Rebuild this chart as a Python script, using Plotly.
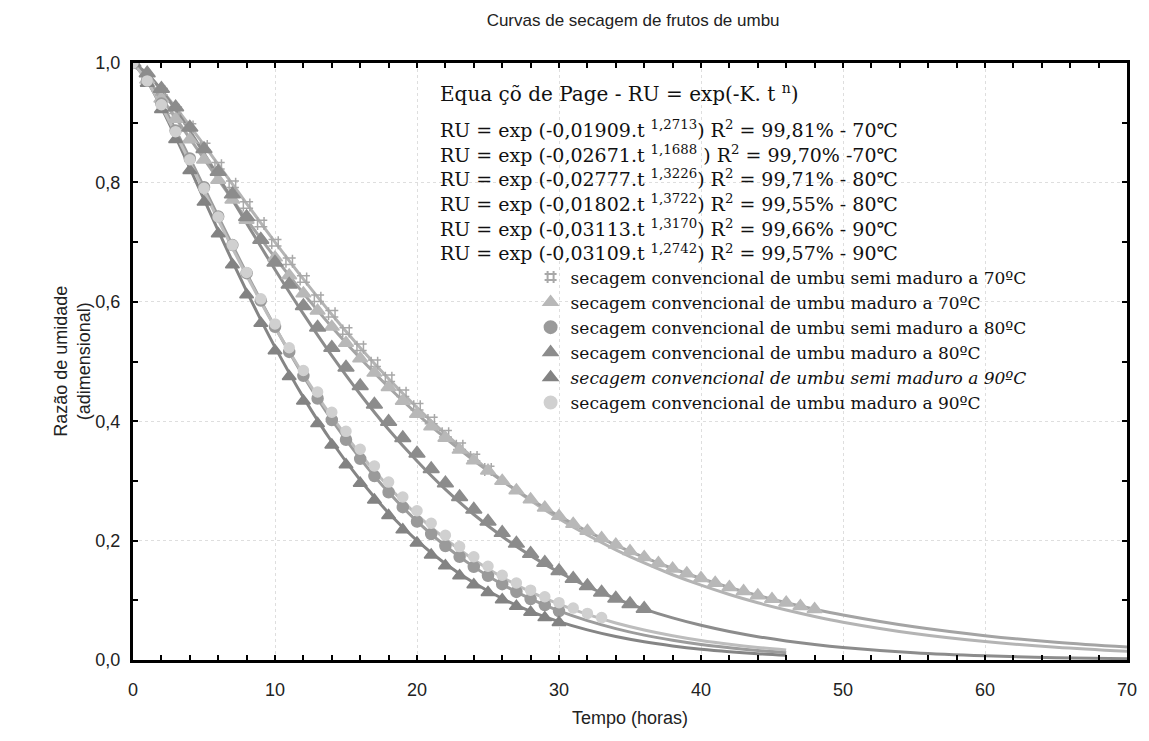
import plotly.graph_objects as go

# ---------------- data ----------------
T_HOURLY = list(range(0, 49))

s1_semi70 = [1.000, 0.975, 0.952, 0.921, 0.893, 0.860, 0.828, 0.797, 0.762, 0.731, 0.699, 0.668, 0.638,
             0.606, 0.580, 0.551, 0.524, 0.497, 0.472, 0.447, 0.424, 0.401, 0.379, 0.358, 0.339, 0.319]
s2_mad70 = [1.000, 0.972, 0.940, 0.906, 0.872, 0.838, 0.804, 0.771, 0.737, 0.705, 0.674, 0.644, 0.614,
            0.585, 0.558, 0.531, 0.505, 0.481, 0.457, 0.434, 0.412, 0.391, 0.372, 0.352, 0.334, 0.317,
            0.300, 0.284, 0.269, 0.255, 0.241, 0.228, 0.216, 0.204, 0.193, 0.182, 0.172, 0.162, 0.153,
            0.145, 0.137, 0.129, 0.122, 0.115, 0.108, 0.102, 0.096, 0.090, 0.085]
s3_semi80 = [1.000, 0.972, 0.932, 0.887, 0.840, 0.792, 0.743, 0.695, 0.648, 0.602, 0.558, 0.516, 0.476,
             0.438, 0.402, 0.369, 0.337, 0.308, 0.281, 0.256, 0.232, 0.211, 0.191, 0.173, 0.156, 0.141,
             0.127, 0.114, 0.102, 0.092, 0.082]
s4_mad80 = [1.000, 0.983, 0.957, 0.926, 0.892, 0.856, 0.818, 0.780, 0.742, 0.704, 0.666, 0.629, 0.593,
            0.557, 0.523, 0.490, 0.459, 0.428, 0.399, 0.372, 0.346, 0.320, 0.296, 0.273, 0.252, 0.232,
            0.213, 0.195, 0.178, 0.163, 0.149, 0.136, 0.124, 0.113, 0.103, 0.094, 0.086]
s5_semi90 = [1.000, 0.966, 0.922, 0.872, 0.820, 0.767, 0.714, 0.662, 0.612, 0.564, 0.518, 0.475, 0.434,
             0.396, 0.360, 0.327, 0.296, 0.268, 0.242, 0.218, 0.196, 0.176, 0.158, 0.141, 0.126, 0.113,
             0.101, 0.090, 0.080, 0.071, 0.063]
s6_mad90 = [1.000, 0.970, 0.930, 0.885, 0.838, 0.790, 0.742, 0.695, 0.649, 0.605, 0.563, 0.523, 0.485,
            0.449, 0.415, 0.383, 0.353, 0.325, 0.298, 0.273, 0.250, 0.229, 0.209, 0.190, 0.173, 0.157,
            0.142, 0.129, 0.117, 0.106, 0.096, 0.087, 0.078, 0.071]

# fitted Page-model curves
FIT_T_LONG = [0, 1, 2, 3, 4, 5, 6, 7, 8, 9, 10, 12, 14, 16, 18, 20, 22, 24, 26, 28, 30, 32, 34, 36, 38,
              40, 42, 44, 46, 48, 50, 55, 60, 65, 70]
FIT_T_SHORT = [0, 1, 2, 3, 4, 5, 6, 7, 8, 9, 10, 12, 14, 16, 18, 20, 22, 24, 26, 28, 30, 32, 34, 36, 38,
               40, 42, 44, 46]

fit1 = [1.0, 0.9811, 0.9550, 0.9257, 0.8948, 0.8627, 0.8301, 0.7973, 0.7646, 0.7321, 0.7001, 0.6379,
        0.5788, 0.5231, 0.4711, 0.4229, 0.3786, 0.3379, 0.3008, 0.2671, 0.2367, 0.2093, 0.1846, 0.1625,
        0.1428, 0.1253, 0.1097, 0.0958, 0.0837, 0.0729, 0.0634, 0.0444, 0.0309, 0.0213, 0.0145]
fit2 = [1.0, 0.9736, 0.9417, 0.9080, 0.8737, 0.8393, 0.8050, 0.7713, 0.7382, 0.7059, 0.6744, 0.6141,
        0.5578, 0.5054, 0.4569, 0.4123, 0.3715, 0.3341, 0.3000, 0.2691, 0.2410, 0.2156, 0.1926, 0.1719,
        0.1533, 0.1365, 0.1215, 0.1080, 0.0958, 0.0850, 0.0754, 0.0556, 0.0408, 0.0298, 0.0217]
fit3 = [1.0, 0.9726, 0.9329, 0.8880, 0.8405, 0.7919, 0.7430, 0.6948, 0.6476, 0.6019, 0.5578, 0.4758,
        0.4021, 0.3374, 0.2808, 0.2323, 0.1909, 0.1560, 0.1267, 0.1024, 0.0824, 0.0660, 0.0526, 0.0417,
        0.0330, 0.0259, 0.0204, 0.0159, 0.0124]
fit4 = [1.0, 0.9821, 0.9544, 0.9219, 0.8862, 0.8487, 0.8101, 0.7708, 0.7315, 0.6925, 0.6541, 0.5797,
        0.5098, 0.4452, 0.3862, 0.3333, 0.2857, 0.2437, 0.2069, 0.1748, 0.1470, 0.1231, 0.1027, 0.0853,
        0.0705, 0.0581, 0.0477, 0.0391, 0.0319, 0.0259, 0.0210, 0.0122, 0.0070, 0.0039, 0.0022]
fit5 = [1.0, 0.9694, 0.9254, 0.8761, 0.8243, 0.7717, 0.7192, 0.6678, 0.6179, 0.5699, 0.5241, 0.4399,
        0.3656, 0.3014, 0.2463, 0.2001, 0.1613, 0.1293, 0.1030, 0.0816, 0.0643, 0.0504, 0.0393, 0.0305,
        0.0236, 0.0181, 0.0139, 0.0106, 0.0081]
fit6 = [1.0, 0.9694, 0.9276, 0.8816, 0.8337, 0.7853, 0.7372, 0.6900, 0.6441, 0.5999, 0.5574, 0.4783,
        0.4075, 0.3450, 0.2903, 0.2432, 0.2027, 0.1680, 0.1387, 0.1141, 0.0935, 0.0763, 0.0620, 0.0503,
        0.0407, 0.0327, 0.0263, 0.0210, 0.0168]

legend_names = [
    "secagem convencional de umbu semi maduro a 70ºC",
    "secagem convencional de umbu maduro a 70ºC",
    "secagem convencional de umbu semi maduro a 80ºC",
    "secagem convencional de umbu maduro a 80ºC",
    "<i>secagem convencional de umbu semi maduro a 90ºC</i>",
    "secagem convencional de umbu maduro a 90ºC",
]

equation_header = "Equa çõ de Page - RU = exp(-K. t <sup>n</sup>)"
equations = [
    "RU = exp (-0,01909.t <sup>1,2713</sup>) R<sup>2</sup> = 99,81% - 70℃",
    "RU = exp (-0,02671.t <sup>1,1688</sup> ) R<sup>2</sup> = 99,70% -70℃",
    "RU = exp (-0,02777.t <sup>1,3226</sup>) R<sup>2</sup> = 99,71% - 80℃",
    "RU = exp (-0,01802.t <sup>1,3722</sup>) R<sup>2</sup> = 99,55% - 80℃",
    "RU = exp (-0,03113.t <sup>1,3170</sup>) R<sup>2</sup> = 99,66% - 90℃",
    "RU = exp (-0,03109.t <sup>1,2742</sup>) R<sup>2</sup> = 99,57% - 90℃",
]

# ---------------- figure ----------------
fig = go.Figure()

fits = [
    (FIT_T_LONG, fit1, "#b4b4b4"),
    (FIT_T_LONG, fit2, "#a4a4a4"),
    (FIT_T_SHORT, fit3, "#9c9c9c"),
    (FIT_T_LONG, fit4, "#8c8c8c"),
    (FIT_T_SHORT, fit5, "#858585"),
    (FIT_T_SHORT, fit6, "#bdbdbd"),
]
for tx, ty, col in fits:
    fig.add_trace(go.Scatter(x=tx, y=ty, mode="lines", line=dict(color=col, width=3, shape="spline"),
                             showlegend=False, hoverinfo="skip"))

series = [
    (s1_semi70, "hash-open", "#a8a8a8", 13),
    (s2_mad70, "triangle-up", "#b8b8b8", 13),
    (s3_semi80, "circle", "#9a9a9a", 11),
    (s4_mad80, "triangle-up", "#8c8c8c", 14),
    (s5_semi90, "triangle-up", "#838383", 12),
    (s6_mad90, "circle", "#d0d0d0", 10),
]
for (vals, sym, col, size), name in zip(series, legend_names):
    fig.add_trace(go.Scatter(
        x=T_HOURLY[:len(vals)], y=vals, mode="markers", name=name,
        marker=dict(symbol=sym, color=col, size=size, line=dict(color=col, width=1.5)),
    ))

fig.add_annotation(x=0.307, y=0.950, xref="paper", yref="paper", text=equation_header, showarrow=False,
                   xanchor="left", yanchor="middle",
                   font=dict(family="DejaVu Serif", size=20, color="#111111"))
fig.add_annotation(x=0.307, y=0.787, xref="paper", yref="paper", text="<br>".join(equations),
                   showarrow=False, xanchor="left", yanchor="middle", align="left",
                   font=dict(family="DejaVu Serif", size=19, color="#111111"))

fig.add_annotation(x=-0.061, y=0.5, xref="paper", yref="paper",
                   text="Razão de umidade<br>(adimensional)", showarrow=False, textangle=-90,
                   xanchor="center", yanchor="middle",
                   font=dict(family="Liberation Sans", size=18, color="#222222"))
fig.add_annotation(x=0.5, y=-0.097, xref="paper", yref="paper", text="Tempo (horas)", showarrow=False,
                   xanchor="center", yanchor="middle",
                   font=dict(family="Liberation Sans", size=18, color="#222222"))

axis_common = dict(showline=True, linecolor="black", linewidth=3, mirror="ticks", ticks="inside",
                   tickcolor="black", tickwidth=2, ticklen=5, zeroline=False,
                   showgrid=True, gridcolor="#dedede", griddash="dot", gridwidth=1,
                   tickfont=dict(family="Liberation Sans", size=18, color="#222222"))

fig.update_xaxes(range=[0, 70], dtick=10, tick0=0,
                 minor=dict(dtick=2, ticks="inside", ticklen=5, tickcolor="black", tickwidth=2, showgrid=False),
                 ticklabelstandoff=11, **axis_common)
fig.update_yaxes(range=[0, 1.0], dtick=0.2, tick0=0, tickformat=".1f",
                 minor=dict(dtick=0.1, ticks="inside", ticklen=5, tickcolor="black", tickwidth=2, showgrid=False),
                 ticklabelstandoff=6, **axis_common)

fig.update_layout(
    width=1149, height=741,
    margin=dict(l=133, r=16, t=63, b=81),
    paper_bgcolor="white", plot_bgcolor="white",
    separators=",.",
    title=dict(text="Curvas de secagem de frutos de umbu", x=0.551, xanchor="center", y=0.973,
               yanchor="middle", font=dict(family="Liberation Sans", size=17, color="#222222")),
    legend=dict(x=0.40, y=0.671, xanchor="left", yanchor="top", bgcolor="rgba(0,0,0,0)",
                font=dict(family="DejaVu Serif", size=17, color="#111111"),
                itemsizing="constant", tracegroupgap=0),
    showlegend=True,
)

fig.write_html("out.html")
